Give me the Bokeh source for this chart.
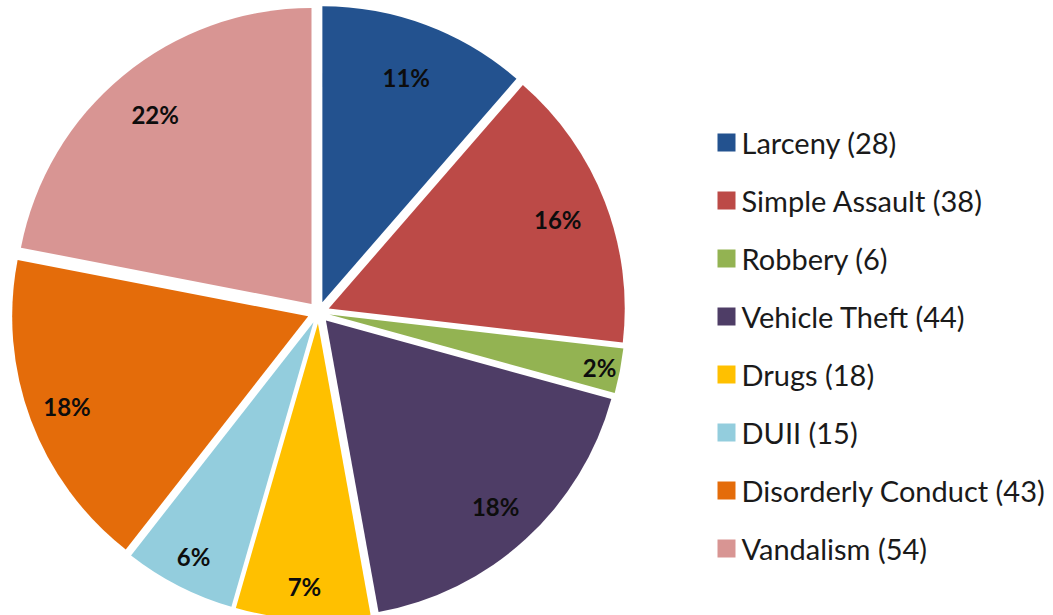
import math
from bokeh.plotting import figure
from bokeh.models import ColumnDataSource, Range1d
from bokeh.core.properties import value
from bokeh.embed import file_html
from bokeh.resources import INLINE

# ---- data ----
categories = ["Larceny", "Simple Assault", "Robbery", "Vehicle Theft",
              "Drugs", "DUII", "Disorderly Conduct", "Vandalism"]
counts = [28, 38, 6, 44, 18, 15, 43, 54]
pct_labels = ["11%", "16%", "2%", "18%", "7%", "6%", "18%", "22%"]
colors = ["#23528F", "#BC4A47", "#93B352", "#4E3D66",
          "#FFC000", "#93CDDD", "#E46C0A", "#D89593"]

# ---- layout (pixel-like data coordinates) ----
W, H = 1053, 615
CX, CY = 318, 303          # pie centre
R = 296                    # pie radius
EXPLODE = 11               # offset of each slice along its bisector
label_r = [0.81, 0.83, 0.93, 0.85, 0.89, 0.89, 0.87, 0.83]

total = float(sum(counts))
starts, ends, xs, ys, lx, ly = [], [], [], [], [], []
cum = 0.0
for i, c in enumerate(counts):
    a0 = math.pi / 2 - 2 * math.pi * cum / total
    cum += c
    a1 = math.pi / 2 - 2 * math.pi * cum / total
    mid = (a0 + a1) / 2
    ox = CX + EXPLODE * math.cos(mid)
    oy = CY + EXPLODE * math.sin(mid)
    starts.append(a0)
    ends.append(a1)
    xs.append(ox)
    ys.append(oy)
    lx.append(ox + label_r[i] * R * math.cos(mid))
    ly.append(oy + label_r[i] * R * math.sin(mid))

src = ColumnDataSource(dict(x=xs, y=ys, start=starts, end=ends, color=colors,
                            lx=lx, ly=ly, lab=pct_labels))

p = figure(width=W, height=H, output_backend="svg", toolbar_location=None,
           x_range=Range1d(0, W), y_range=Range1d(0, H), min_border=0,
           background_fill_color="white", border_fill_color="white")
p.axis.visible = False
p.xgrid.visible = False
p.ygrid.visible = False
p.outline_line_color = None

p.wedge(x="x", y="y", radius=R, start_angle="start", end_angle="end",
        direction="clock", fill_color="color", line_color=None, source=src)

p.text(x="lx", y="ly", text="lab", source=src, text_align="center",
       text_baseline="middle", text_font=value("Lato"), text_font_size="24px",
       text_font_style="bold", text_color="#0d0d0d")

# ---- legend drawn manually ----
LEG_X, LEG_Y0, LEG_DY = 726, 473, 58
leg_names = [f"{n} ({v})" for n, v in zip(categories, counts)]
leg_y = [LEG_Y0 - i * LEG_DY for i in range(len(categories))]
leg_src = ColumnDataSource(dict(x=[LEG_X] * len(categories), y=leg_y,
                                tx=[LEG_X + 15] * len(categories),
                                name=leg_names, color=colors))
p.scatter(x="x", y="y", marker="square", size=18, fill_color="color",
          line_color=None, source=leg_src)
p.text(x="tx", y="y", text="name", source=leg_src, text_align="left",
       text_baseline="middle", text_font=value("Lato"), text_font_size="29px",
       text_color="#1a1a1a")

open("out.html", "w").write(file_html(p, INLINE))
